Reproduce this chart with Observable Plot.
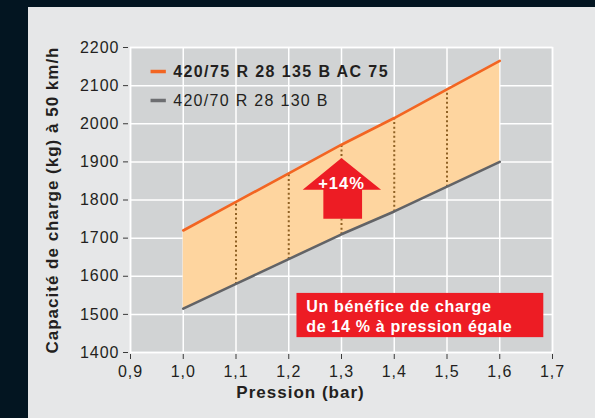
<!DOCTYPE html>
<html>
<head>
<meta charset="utf-8">
<script src="https://cdn.jsdelivr.net/npm/d3@7"></script>
<script src="https://cdn.jsdelivr.net/npm/@observablehq/plot@0.6"></script>
<style>
  html, body { margin: 0; padding: 0; background: #031521; }
  #wrap { position: relative; width: 595px; height: 418px; overflow: hidden; }
  #panel { position: absolute; left: 28px; top: 7px; width: 567px; height: 411px; background: #e6e7e8; }
  #chart { position: absolute; left: 0; top: 0; }
</style>
</head>
<body>
<div id="wrap"><div id="panel"></div><div id="chart"></div></div>
<script>
// ---- data ----
const pressures = [1.0, 1.1, 1.2, 1.3, 1.4, 1.5, 1.6];
const loadAC75 = [1720, 1795, 1870, 1945, 2015, 2090, 2165];   // 420/75 R 28 135 B AC 75
const loadStd  = [1515, 1580, 1645, 1710, 1770, 1835, 1900];   // 420/70 R 28 130 B
const dottedAt = [1.1, 1.2, 1.3, 1.4, 1.5];
const xTicks = [0.9, 1.0, 1.1, 1.2, 1.3, 1.4, 1.5, 1.6, 1.7];
const yTicks = [1400, 1500, 1600, 1700, 1800, 1900, 2000, 2100, 2200];
const seriesNames = ["420/75 R 28 135 B AC 75", "420/70 R 28 130 B"];
const gainLabel = "+14%";
const noteLines = ["Un bénéfice de charge", "de 14 % à pression égale"];
const xLabel = "Pression (bar)";
const yLabel = "Capacité de charge (kg) à 50 km/h";

// ---- derived tables ----
const rows = pressures.map((p, i) => ({p, hi: loadAC75[i], lo: loadStd[i]}));
const dotted = rows.filter(r => dottedAt.includes(r.p));

// annotation geometry (data units)
const arrow = [
  {x: 1.300, y: 1910}, {x: 1.375, y: 1827}, {x: 1.339, y: 1827}, {x: 1.339, y: 1751},
  {x: 1.2656, y: 1751}, {x: 1.2656, y: 1827}, {x: 1.2264, y: 1827}
];
const legend = [
  {x1: 0.938, x2: 0.967, y: 2137, tx: 0.981, name: seriesNames[0], color: "#f26522"},
  {x1: 0.938, x2: 0.967, y: 2061, tx: 0.981, name: seriesNames[1], color: "#6d6e71"}
];
const noteBox = {x1: 1.2156, x2: 1.6835, y1: 1439, y2: 1555};

const FONT = "'Liberation Sans', Arial, Helvetica, sans-serif";
const TXT = "#231f20";

const chart = Plot.plot({
  width: 595,
  height: 418,
  marginLeft: 130,
  marginRight: 43,
  marginTop: 47,
  marginBottom: 66,
  style: {background: "transparent", fontFamily: FONT, color: TXT},
  x: {domain: [0.9, 1.7]},
  y: {domain: [1400, 2200]},
  marks: [
    Plot.frame({fill: "#d1d3d4", stroke: "none"}),
    Plot.gridX(xTicks, {stroke: "#ffffff", strokeOpacity: 1, strokeWidth: 1.5}),
    Plot.gridY(yTicks, {stroke: "#ffffff", strokeOpacity: 1, strokeWidth: 1.5}),
    Plot.frame({stroke: "#ffffff", strokeWidth: 1.5}),
    Plot.areaY(rows, {x: "p", y1: "lo", y2: "hi", fill: "#fed59f", fillOpacity: 1}),
    Plot.link(dotted, {x1: "p", x2: "p", y1: "lo", y2: "hi", stroke: "#8f6124", strokeWidth: 2, strokeDasharray: "2,2.6"}),
    Plot.line(rows, {x: "p", y: "hi", stroke: "#f26522", strokeWidth: 2.6}),
    Plot.line(rows, {x: "p", y: "lo", stroke: "#626366", strokeWidth: 2.6}),
    Plot.line(arrow, {x: "x", y: "y", fill: "#ed1c24", stroke: "none"}),
    Plot.text([gainLabel], {x: 1.3, y: 1844, text: d => d, fill: "#ffffff", fontWeight: "bold", fontSize: 16.5}),
    Plot.rect([noteBox], {x1: "x1", x2: "x2", y1: "y1", y2: "y2", fill: "#ed1c24"}),
    Plot.text(noteLines, {x: 1.233, y: (d, i) => [1520, 1468][i], text: d => d, textAnchor: "start", fill: "#ffffff", fontWeight: "bold", fontSize: 16, className: "note"}),
    Plot.link(legend, {x1: "x1", x2: "x2", y1: "y", y2: "y", stroke: "color", strokeWidth: 3.5}),
    Plot.text([legend[0]], {x: "tx", y: "y", text: "name", textAnchor: "start", fill: TXT, fontWeight: "bold", fontSize: 16, className: "leg1"}),
    Plot.text([legend[1]], {x: "tx", y: "y", text: "name", textAnchor: "start", fill: TXT, fontWeight: "normal", fontSize: 16, className: "leg2"}),
    Plot.axisX(xTicks, {tickFormat: d => d.toFixed(1).replace(".", ","), tickSize: 5, tickPadding: 6, dy: 2, fontSize: 16, stroke: "#3a3a3a", fill: TXT, label: null}),
    Plot.axisY(yTicks, {tickFormat: d => String(d), tickSize: 5, tickPadding: 4, dx: -2, fontSize: 16, stroke: "#3a3a3a", fill: TXT, label: null}),
    Plot.text([xLabel], {frameAnchor: "bottom", dx: -41, dy: 45, text: d => d, fontWeight: "bold", fontSize: 17, fill: TXT}),
    Plot.text([yLabel], {frameAnchor: "left", textAnchor: "middle", dx: -78, text: d => d, rotate: -90, fontWeight: "bold", fontSize: 17, fill: TXT})
  ]
});
// letter spacing to mimic the wider original typeface
chart.querySelectorAll("text").forEach(t => t.style.letterSpacing = "1px");
chart.querySelectorAll(".note text").forEach(t => t.style.letterSpacing = "0.7px");
chart.querySelectorAll(".leg1 text").forEach(t => t.style.letterSpacing = "1.4px");
chart.querySelectorAll(".leg2 text").forEach(t => t.style.letterSpacing = "1.3px");
document.getElementById("chart").appendChild(chart);
</script>
</body>
</html>
